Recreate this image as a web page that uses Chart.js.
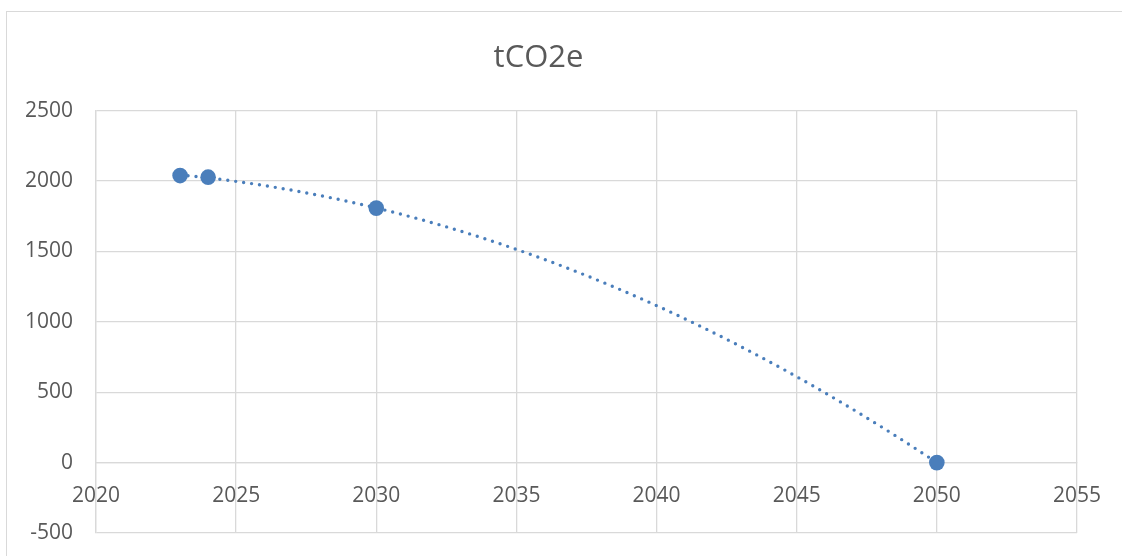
<!DOCTYPE html>
<html><head><meta charset="utf-8">
<script src="https://cdn.jsdelivr.net/npm/chart.js@4"></script>
<style>
html,body{margin:0;padding:0;background:#fff;overflow:hidden}
#wrap{position:relative;width:1122px;height:556px}
#frame{position:absolute;left:6px;top:11px;width:1140px;height:600px;border:1.5px solid #d9d9d9;box-sizing:border-box}
canvas{position:absolute;left:0;top:0}
</style></head><body>
<div id="wrap"><div id="frame"></div><canvas id="c" width="1122" height="556"></canvas></div>
<script>
// Data
const years = [2023, 2024, 2030, 2050];
const emissions = [2039, 2028, 1808, 0];
const titleText = 'tCO2e';
const xTickValues = [2020, 2025, 2030, 2035, 2040, 2045, 2050, 2055];
const yTickValues = [-500, 0, 500, 1000, 1500, 2000, 2500];

// Order-2 polynomial trendline (least squares over the data above), as in the original chart
function quadFit(xs, ys) {
  const x0 = xs[0];
  let S = [0,0,0,0,0], T = [0,0,0];
  xs.forEach((x, i) => {
    const u = x - x0;
    for (let k = 0; k < 5; k++) S[k] += Math.pow(u, k);
    for (let k = 0; k < 3; k++) T[k] += ys[i] * Math.pow(u, k);
  });
  const M = [[S[0],S[1],S[2],T[0]],[S[1],S[2],S[3],T[1]],[S[2],S[3],S[4],T[2]]];
  for (let i = 0; i < 3; i++) {
    for (let j = i + 1; j < 3; j++) {
      const f = M[j][i] / M[i][i];
      for (let k = i; k < 4; k++) M[j][k] -= f * M[i][k];
    }
  }
  const c = [0,0,0];
  for (let i = 2; i >= 0; i--) {
    let s = M[i][3];
    for (let k = i + 1; k < 3; k++) s -= M[i][k] * c[k];
    c[i] = s / M[i][i];
  }
  return x => { const u = x - x0; return c[0] + c[1]*u + c[2]*u*u; };
}
const trend = quadFit(years, emissions);
const trendPoints = [];
for (let x = years[0]; x <= years[years.length-1] + 1e-9; x += 0.25) trendPoints.push({x, y: trend(x)});

const points = years.map((y, i) => ({x: y, y: emissions[i]}));
const blue = '#4a7ebb';
const grey = '#d9d9d9';
const textCol = '#595959';
const font = {family: "'Open Sans', 'Liberation Sans', sans-serif", size: 21};

new Chart(document.getElementById('c'), {
  type: 'scatter',
  data: {
    datasets: [
      {data: points, backgroundColor: blue, borderColor: blue, pointRadius: 7.8, pointHoverRadius: 7.8, borderWidth: 0, order: 1},
      {data: trendPoints, showLine: true, pointRadius: 0, borderColor: blue, borderWidth: 3.4,
       borderDash: [0, 8], borderCapStyle: 'round', tension: 0, order: 2}
    ]
  },
  options: {
    responsive: false,
    animation: false,
    devicePixelRatio: 1,
    layout: {padding: {left: 0, right: 45, top: 0, bottom: 23}},
    plugins: {
      legend: {display: false},
      tooltip: {enabled: false},
      title: {display: true, text: titleText, color: textCol,
        font: {family: font.family, size: 31, weight: 'normal'}, padding: {top: 40, bottom: 33.5}}
    },
    scales: {
      x: {
        type: 'linear', position: {y: 0}, min: xTickValues[0], max: xTickValues[xTickValues.length-1],
        afterBuildTicks: s => { s.ticks = xTickValues.map(v => ({value: v})); },
        ticks: {color: textCol, font, padding: 21, callback: v => String(v), maxRotation: 0},
        grid: {color: grey, lineWidth: 1.3, drawTicks: false},
        border: {color: grey, width: 1.3}
      },
      y: {
        min: yTickValues[0], max: yTickValues[yTickValues.length-1],
        afterBuildTicks: s => { s.ticks = yTickValues.map(v => ({value: v})); },
        afterFit: s => { s.width = 96; s.paddingTop = 13; s.paddingBottom = 13; },
        ticks: {color: textCol, font, padding: 23, callback: v => String(v)},
        grid: {color: grey, lineWidth: 1.3, drawTicks: false},
        border: {color: grey, width: 1.3}
      }
    }
  }
});
</script>
</body></html>
